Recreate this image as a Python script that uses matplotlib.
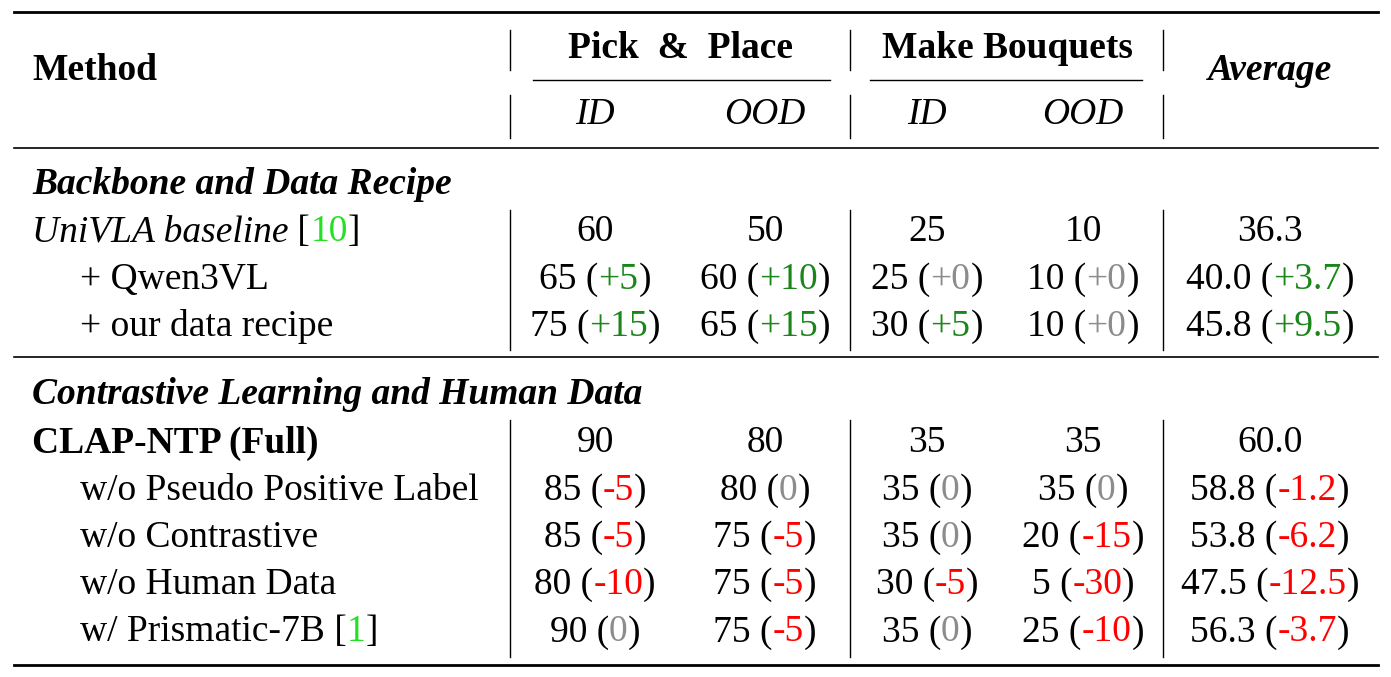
import matplotlib.pyplot as plt

plt.rcParams['font.family'] = ['Liberation Serif', 'DejaVu Serif']
FS = 27

groups = ["Backbone and Data Recipe", "Contrastive Learning and Human Data"]
methods = [
    ["UniVLA baseline", "+ Qwen3VL", "+ our data recipe"],
    ["CLAP-NTP (Full)", "w/o Pseudo Positive Label", "w/o Contrastive",
     "w/o Human Data", "w/ Prismatic-7B"],
]
cites = [["10", None, None], [None, None, None, None, "1"]]
scores = [
    [[60, 50, 25, 10, 36.3], [65, 60, 25, 10, 40.0], [75, 65, 30, 10, 45.8]],
    [[90, 80, 35, 35, 60.0], [85, 80, 35, 35, 58.8], [85, 75, 35, 20, 53.8],
     [80, 75, 30, 5, 47.5], [90, 75, 35, 25, 56.3]],
]
deltas = [
    [[None] * 5, ["+5", "+10", "+0", "+0", "+3.7"], ["+15", "+15", "+5", "+0", "+9.5"]],
    [[None] * 5, ["-5", "0", "0", "0", "-1.2"], ["-5", "-5", "0", "-15", "-6.2"],
     ["-10", "-5", "-5", "-30", "-12.5"], ["0", "-5", "0", "-10", "-3.7"]],
]

GREEN, GRAY, RED, CITE = "#1a861a", "#8c8c8c", "#ff0000", "#22e022"

fig = plt.figure(figsize=(13.91, 6.77), dpi=100)
ax = fig.add_axes([0, 0, 1, 1])
ax.set_xlim(0, 1391)
ax.set_ylim(677, 0)
ax.axis("off")
fig.canvas.draw()
rend = fig.canvas.get_renderer()


def width(s, **kw):
    t = ax.text(0, 0, s, fontsize=FS, **kw)
    w = t.get_window_extent(rend).width
    t.remove()
    return w


def parts(x, y, pieces, ha="left"):
    total = sum(width(s, **kw) for s, kw in pieces)
    if ha == "center":
        x -= total / 2
    for s, kw in pieces:
        ax.text(x, y, s, fontsize=FS, va="center", ha="left", **kw)
        x += width(s, **kw)


def delta_color(d):
    if d in ("0", "+0"):
        return GRAY
    return GREEN if d.startswith("+") else RED


cols = [595, 765, 927, 1083, 1270]
vlines = [510, 850, 1163]

# rules
for y, lw in [(12, 2), (148, 1.2), (357, 1.2), (665, 2)]:
    ax.plot([14, 1378], [y, y], color="black", lw=lw)

# header
ax.text(32, 70, "Method", fontsize=FS, fontweight="bold", va="center")
ax.text(680, 48, "Pick  &  Place", fontsize=FS, fontweight="bold", va="center", ha="center")
ax.text(1007, 48, "Make Bouquets", fontsize=FS, fontweight="bold", va="center", ha="center")
ax.text(1270, 70, "Average", fontsize=FS, fontweight="bold", style="italic",
        va="center", ha="center")
ax.plot([533, 830], [80, 80], color="black", lw=1)
ax.plot([870, 1142], [80, 80], color="black", lw=1)
for c, lab in zip(cols[:4], ["ID", "OOD", "ID", "OOD"]):
    ax.text(c, 115, lab, fontsize=FS, style="italic", va="center", ha="center")
for x in vlines:
    ax.plot([x, x], [30, 70], color="black", lw=1)
    ax.plot([x, x], [95, 138], color="black", lw=1)

group_y = [185, 395]
row_starts = [232, 443]
span = [(210, 350), (420, 657)]
for g in range(2):
    ax.text(32, group_y[g], groups[g], fontsize=FS, fontweight="bold",
            style="italic", va="center")
    for x in vlines:
        ax.plot([x, x], list(span[g]), color="black", lw=1)
    for i, m in enumerate(methods[g]):
        y = row_starts[g] + i * 47.3
        first = i == 0
        x0 = 32 if first else 80
        kw = {}
        if first and g == 0:
            kw = {"style": "italic"}
        if first and g == 1:
            kw = {"fontweight": "bold"}
        pieces = [(m, kw)]
        if cites[g][i]:
            pieces += [(" [", {}), (cites[g][i], {"color": CITE}), ("]", {})]
        parts(x0, y, pieces)
        for j, c in enumerate(cols):
            v = scores[g][i][j]
            s = f"{v:.1f}" if j == 4 else f"{v:d}"
            d = deltas[g][i][j]
            if d is None:
                parts(c, y, [(s, {})], ha="center")
            else:
                parts(c, y, [(s + " (", {}), (d, {"color": delta_color(d)}), (")", {})],
                      ha="center")

fig.savefig("out.png", dpi=100)
